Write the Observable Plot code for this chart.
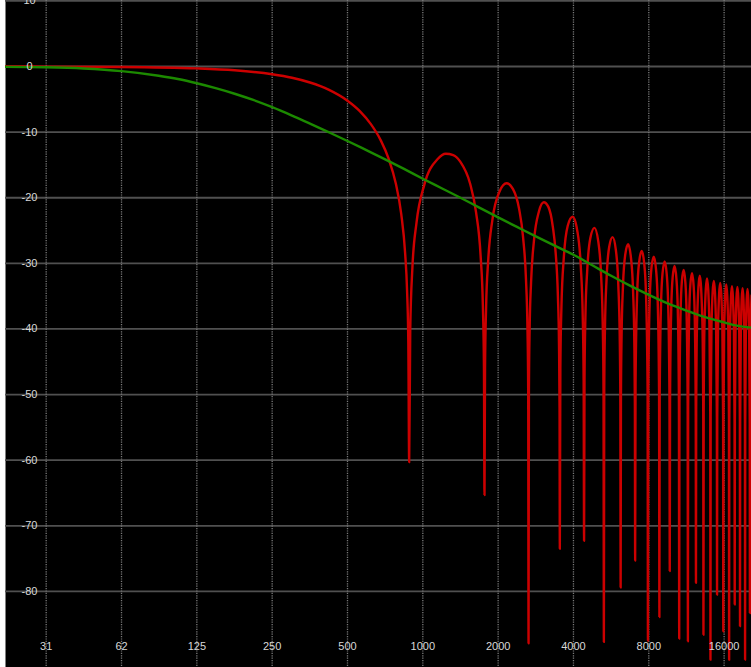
<!DOCTYPE html>
<html>
<head>
<meta charset="utf-8">
<script src="https://cdn.jsdelivr.net/npm/d3@7"></script>
<script src="https://cdn.jsdelivr.net/npm/@observablehq/plot@0.6"></script>
<style>
  html, body { margin: 0; padding: 0; background: #ffffff; }
  #chart svg { display: block; }
</style>
</head>
<body>
<div id="chart"></div>
<script>
// Frequency axis (Hz, log) and level axis (dB)
const xTicks = [31.25, 62.5, 125, 250, 500, 1000, 2000, 4000, 8000, 16000];
const xTickLabels = ["31", "62", "125", "250", "500", "1000", "2000", "4000", "8000", "16000"];
const yTicks = [10, 0, -10, -20, -30, -40, -50, -60, -70, -80];

// Green curve: smooth low-pass shelf, [Hz, dB]
const greenCurve = [
  [21.5, -0.05], [31.25, -0.12], [44, -0.3], [62.5, -0.7], [88, -1.4], [105, -1.9],
  [125, -2.55], [148.6, -3.3], [177, -4.15], [210, -5.1], [250, -6.2], [297, -7.4],
  [354, -8.7], [420, -10.0], [500, -11.35], [595, -12.75], [707, -14.15], [841, -15.6],
  [1000, -17.1], [1189, -18.55], [1414, -20.0], [1682, -21.5], [2000, -23.0], [2378, -24.45],
  [2828, -25.9], [3364, -27.3], [4000, -28.7], [4757, -30.3], [5657, -31.9], [6727, -33.4],
  [8000, -34.8], [9514, -36.1], [11314, -37.2], [13454, -38.2], [16000, -39.0], [18000, -39.5],
  [20585, -39.8]
];

// Red curve: main lobe, [Hz, dB]
const redMainLobe = [
  [21.5, 0], [31.25, -0.02], [62.5, -0.07], [125, -0.29], [177, -0.58], [250, -1.18],
  [300, -1.72], [354, -2.44], [420, -3.52], [500, -5.21], [560, -6.8], [620, -8.79],
  [680, -11.3], [730, -14.05], [780, -17.84], [820, -22.5], [850, -28.5], [865, -34.1],
  [875, -42.0], [882, -60.3]
];

// Red curve: side lobes (each ends on its null), [Hz, dB]
const redSideLobes = [
  [890.8, -40.1], [908.5, -30.7], [943.7, -23.8], [1014.3, -18.0], [1146.6, -14.1], [1234.8, -13.3],
  [1323, -13.5], [1411.2, -14.5], [1543.5, -17.8], [1631.7, -22.2], [1702.3, -28.9], [1737.5, -36.4],
  [1755.2, -46.0], [1764, -65.3],
  [1772.8, -46.0], [1790.5, -36.6], [1825.7, -29.5], [1896.3, -23.4], [2028.6, -19.0], [2160.9, -17.8],
  [2293.2, -18.7], [2425.5, -21.7], [2513.7, -25.9], [2584.3, -32.5], [2619.5, -39.9], [2637.2, -49.5],
  [2646, -87.9],
  [2654.8, -49.5], [2672.5, -40.0], [2707.7, -32.9], [2778.3, -26.7], [2910.6, -22.1], [3042.9, -20.7],
  [3175.2, -21.4], [3307.5, -24.4], [3395.7, -28.4], [3466.3, -35.0], [3501.5, -42.4], [3519.2, -52.0],
  [3528, -73.5],
  [3545.6, -46.0], [3580.9, -36.6], [3660.3, -29.1], [3792.6, -24.3], [3969, -22.9], [4145.4, -25.1],
  [4277.7, -30.4], [4357.1, -38.2], [4392.4, -47.8], [4410, -72.3],
  [4427.6, -47.9], [4462.9, -38.4], [4542.3, -30.9], [4674.6, -26.1], [4851, -24.6], [5027.4, -26.7],
  [5159.7, -31.9], [5239.1, -39.8], [5274.4, -49.3], [5292, -87.7],
  [5309.6, -49.4], [5344.9, -39.9], [5424.3, -32.4], [5556.6, -27.5], [5733, -26.0], [5909.4, -28.0],
  [6041.7, -33.2], [6121.1, -41.0], [6156.4, -50.6], [6174, -79.4],
  [6191.6, -50.6], [6226.9, -41.2], [6306.3, -33.6], [6438.6, -28.7], [6615, -27.1], [6791.4, -29.2],
  [6923.7, -34.3], [7003.1, -42.1], [7038.4, -51.7], [7056, -75.3],
  [7082.5, -48.2], [7188.3, -34.6], [7320.6, -29.8], [7497, -28.1], [7673.4, -30.1], [7805.7, -35.3],
  [7911.5, -49.1], [7938, -87.5],
  [7964.5, -49.1], [8070.3, -35.5], [8202.6, -30.6], [8379, -29.0], [8555.4, -31.0], [8687.7, -36.1],
  [8793.5, -49.9], [8820, -83.9],
  [8846.5, -49.9], [8952.3, -36.3], [9084.6, -31.4], [9261, -29.7], [9437.4, -31.7], [9569.7, -36.8],
  [9675.5, -50.6], [9702, -76.9],
  [9728.5, -50.6], [9834.3, -37.0], [9966.6, -32.1], [10143, -30.4], [10319.4, -32.4], [10451.7, -37.5],
  [10557.5, -51.2], [10584, -87.2],
  [10610.5, -51.2], [10716.3, -37.6], [10848.6, -32.7], [11025, -31.0], [11201.4, -32.9], [11333.7, -38.0],
  [11439.5, -51.7], [11466, -87.6],
  [11492.5, -51.8], [11598.3, -38.2], [11730.6, -33.2], [11907, -31.5], [12083.4, -33.4], [12215.7, -38.5],
  [12321.5, -52.2], [12348, -78.7],
  [12374.5, -52.3], [12480.3, -38.6], [12789, -31.9], [13097.7, -38.9], [13203.5, -52.7], [13230, -86.6],
  [13256.5, -52.7], [13362.3, -39.1], [13671, -32.3], [13979.7, -39.3], [14085.5, -53.0], [14112, -90.4],
  [14138.5, -53.0], [14244.3, -39.4], [14553, -32.7], [14861.7, -39.7], [14967.5, -53.4], [14994, -80.5],
  [15020.5, -53.4], [15126.3, -39.7], [15435, -33.0], [15743.7, -39.9], [15849.5, -53.6], [15876, -86.1],
  [15902.5, -53.6], [16008.3, -40.0], [16317, -33.2], [16625.7, -40.2], [16731.5, -53.9], [16758, -90.4],
  [16784.5, -53.9], [16890.3, -40.2], [17199, -33.5], [17507.7, -40.4], [17613.5, -54.1], [17640, -82.0],
  [17666.5, -54.1], [17772.3, -40.4], [18081, -33.6], [18389.7, -40.5], [18495.5, -54.2], [18522, -85.3],
  [18548.5, -54.2], [18654.3, -40.6], [18963, -33.8], [19271.7, -40.7], [19377.5, -54.3], [19404, -90.4],
  [19430.5, -54.4], [19536.3, -40.7], [19845, -33.9], [20153.7, -40.8], [20259.5, -54.4], [20286, -83.3],
  [20312.5, -54.5], [20418.3, -40.8], [20600, -34.9]
];

const toRows = (arr) => arr.map(([hz, db]) => ({hz, db}));
const redRows = toRows(redMainLobe.concat(redSideLobes));
const greenRows = toRows(greenCurve);

const chart = Plot.plot({
  width: 751,
  height: 667,
  marginLeft: 5,
  marginRight: 0,
  marginTop: 0,
  marginBottom: 0,
  style: {
    background: "#ffffff",
    fontFamily: "'Liberation Sans', Arial, sans-serif",
    fontSize: "11px"
  },
  x: {type: "log", domain: [21.49, 20585], axis: null},
  y: {domain: [-91.6, 10.06], axis: null},
  marks: [
    Plot.frame({fill: "#000000", stroke: null}),
    Plot.ruleY(yTicks, {stroke: "#505050", strokeWidth: 1.8}),
    Plot.ruleX(xTicks, {stroke: "#7a7a7a", strokeWidth: 1.3, strokeDasharray: "1.2,1.2"}),
    Plot.line(redRows, {x: "hz", y: "db", stroke: "#cc0000", strokeWidth: 2.4, curve: "monotone-x", clip: true}),
    Plot.line(greenRows, {x: "hz", y: "db", stroke: "#1c8a00", strokeWidth: 2.4, curve: "monotone-x", clip: true}),
    Plot.text(yTicks, {y: d => d, text: d => String(d), frameAnchor: "left", dx: 24, fill: "#d8d8d8", textAnchor: "middle"}),
    Plot.text(xTicks, {x: d => d, text: (d, i) => xTickLabels[i], frameAnchor: "bottom", dy: -18, fill: "#d8d8d8", textAnchor: "middle"})
  ]
});
document.getElementById("chart").appendChild(chart);
</script>
</body>
</html>
